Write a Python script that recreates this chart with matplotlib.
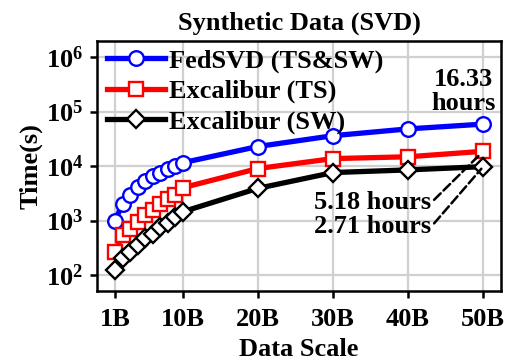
import numpy as np
import matplotlib
matplotlib.use('Agg')
import matplotlib.pyplot as plt

plt.rcParams['font.family'] = 'Liberation Serif'
plt.rcParams['font.weight'] = 'bold'
plt.rcParams['mathtext.fontset'] = 'custom'
plt.rcParams['mathtext.rm'] = 'Liberation Serif:bold'
plt.rcParams['mathtext.bf'] = 'Liberation Serif:bold'
plt.rcParams['mathtext.it'] = 'Liberation Serif:bold:italic'

# data scale in billions
scale = [1, 2, 3, 4, 5, 6, 7, 8, 9, 10, 20, 30, 40, 50]
xticks = [1, 10, 20, 30, 40, 50]
xlabels = ['1B', '10B', '20B', '30B', '40B', '50B']

# time in seconds
fedsvd = [1000, 2000, 3000, 4100, 5300, 6600, 7600, 9000, 10000, 11500,
          22800, 36000, 48000, 58788]
exc_ts = [270, 535, 710, 960, 1290, 1590, 2050, 2530, 3000, 4000,
          9000, 13700, 14800, 18648]
exc_sw = [125, 210, 270, 360, 470, 580, 750, 920, 1180, 1450,
          3900, 7600, 8500, 9756]

fs = 19
fig = plt.figure(figsize=(5.13, 3.61), dpi=100)
ax = fig.add_axes([0.189, 0.194, 0.788, 0.692])

mk = dict(markersize=10.5, markerfacecolor='white', markeredgewidth=1.7, linewidth=3.8)
ax.plot(scale, fedsvd, color='blue', marker='o', markeredgecolor='blue',
        label='FedSVD (TS&SW)', **mk)
ax.plot(scale, exc_ts, color='red', marker='s', markeredgecolor='red',
        label='Excalibur (TS)', **mk)
ax.plot(scale, exc_sw, color='black', marker='D', markeredgecolor='black',
        label='Excalibur (SW)', markersize=9.5, markerfacecolor='white',
        markeredgewidth=1.7, linewidth=3.8)

ax.set_yscale('log')
ax.set_ylim(10**1.71, 10**6.29)
ax.set_xlim(-1.4, 52.4)
ax.set_xticks(xticks)
ax.set_xticklabels(xlabels)
ax.set_yticks([1e2, 1e3, 1e4, 1e5, 1e6])
ax.minorticks_off()
ax.tick_params(labelsize=fs, width=1.8, length=5, direction='out')
ax.tick_params(axis='x', pad=7)
ax.tick_params(axis='y', pad=5)
ax.grid(True, color='#d0d0d0', linewidth=1.6)
ax.set_axisbelow(True)
for s in ax.spines.values():
    s.set_linewidth(1.8)

ax.set_xlabel('Data Scale', fontsize=fs, fontweight='bold', labelpad=5)
ax.set_ylabel('Time(s)', fontsize=fs, fontweight='bold', labelpad=2)
ax.set_title('Synthetic Data (SVD)', fontsize=fs, fontweight='bold', pad=8)

ax.legend(loc='upper left', frameon=False, fontsize=fs, handlelength=2.2,
          handletextpad=0.15, labelspacing=0.25, borderaxespad=0.2,
          borderpad=0.1, bbox_to_anchor=(0.005, 1.0))

ax.text(47.4, 2.3e5, '16.33\nhours', fontsize=fs, fontweight='bold',
        ha='center', va='center', linespacing=1.05)

dash = dict(arrowstyle='-', linestyle='--', linewidth=1.8, color='black',
            relpos=(1, 0.5), shrinkA=0, shrinkB=2)
ax.annotate('5.18 hours', xy=(scale[-1], exc_ts[-1]), xytext=(43.1, 2140),
            fontsize=fs, fontweight='bold', ha='right', va='center',
            arrowprops=dash)
ax.annotate('2.71 hours', xy=(scale[-1], exc_sw[-1]), xytext=(43.1, 776),
            fontsize=fs, fontweight='bold', ha='right', va='center',
            arrowprops=dash)

fig.savefig('out.png', dpi=100)
